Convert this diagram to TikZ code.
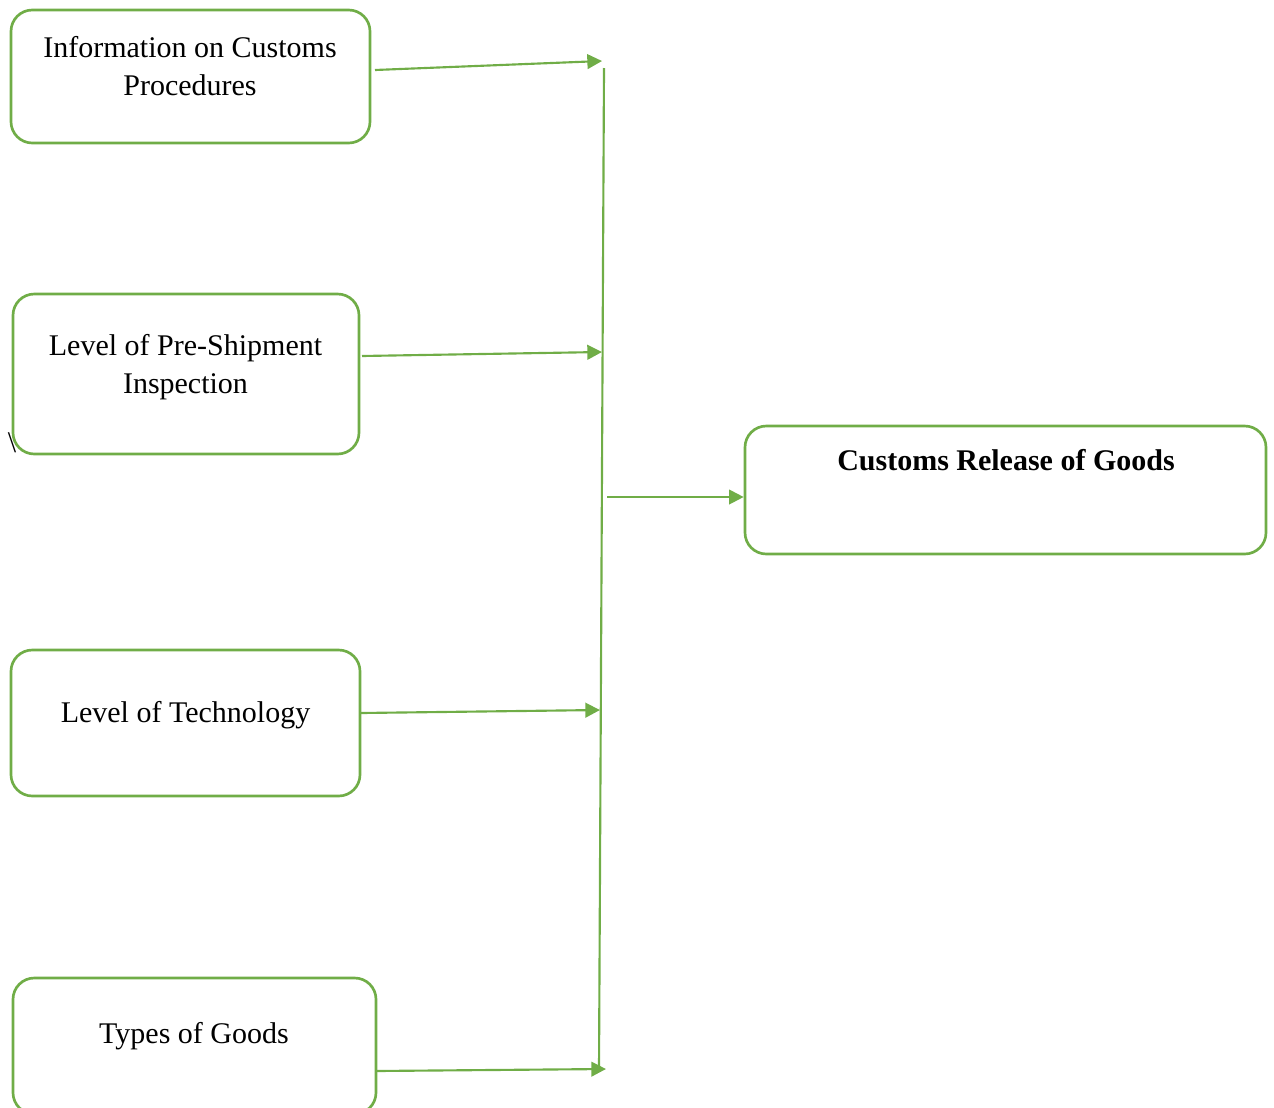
\documentclass[tikz,border=0pt]{standalone}
\usepackage{fontspec}
\setmainfont{Liberation Serif}
\usetikzlibrary{arrows.meta}
\definecolor{grn}{HTML}{70AD47}
\begin{document}
\begin{tikzpicture}[x=0.75pt,y=-0.75pt,
  box/.style={draw=grn,line width=2pt,rounded corners=16pt,inner sep=0pt},
  lbl/.style={font=\fontsize{22.5}{28.5}\selectfont,align=center,anchor=base,inner sep=0pt},
  conn/.style={draw=grn,line width=1.6pt},
  arr/.style={conn,-{Triangle[length=11pt,width=11pt]}}]
\useasboundingbox (0,0) rectangle (1274,1107);
% boxes
\node[box,minimum width=269.25pt,minimum height=99.75pt] (b1) at (190.5,76.5) {};
\node[box,minimum width=259.5pt,minimum height=120pt] (b2) at (186,374) {};
\node[box,minimum width=261.75pt,minimum height=109.5pt] (b3) at (185.5,723) {};
\node[box,minimum width=272.25pt,minimum height=102pt] (b4) at (194.5,1046) {};
\node[box,minimum width=390.75pt,minimum height=96pt] (b5) at (1005.5,490) {};
% texts
\node[lbl] (t1) at (190,95) {Information on Customs\\Procedures};
\node[lbl] (t2) at (185.5,393) {Level of Pre-Shipment\\Inspection};
\node[lbl] (t3) at (185.5,722) {Level of Technology};
\node[lbl] (t4) at (194,1043) {Types of Goods};
\node[lbl,font=\fontsize{22.5}{28.5}\selectfont\bfseries] (t5) at (1006,470) {Customs Release of Goods};
\node[lbl,anchor=center] (bs) at (12,443) {\textbackslash};
% coordinates
\coordinate (s1) at (375,70);  \coordinate (e1) at (602,61);
\coordinate (s2) at (362,356); \coordinate (e2) at (602,352);
\coordinate (s3) at (361,713); \coordinate (e3) at (600,710);
\coordinate (s4) at (376,1071);\coordinate (e4) at (606,1069);
\coordinate (vt) at (604,68);  \coordinate (vb) at (599,1070);
\coordinate (m) at (607,497);
% connectors
\draw[arr] (s1) -- (e1);
\draw[arr] (s2) -- (e2);
\draw[arr] (s3) -- (e3);
\draw[arr] (s4) -- (e4);
\draw[conn] (vt) -- (vb);
\draw[arr] (m) -- (m -| b5.west);
\end{tikzpicture}
\end{document}
